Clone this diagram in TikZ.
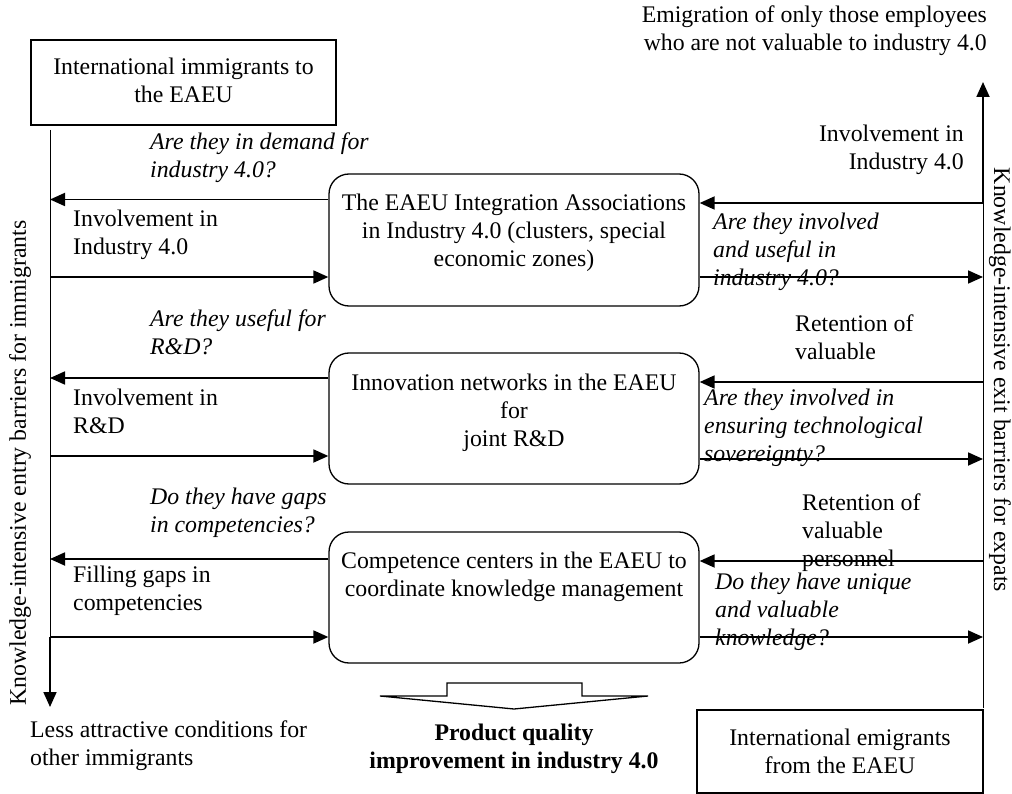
\documentclass[tikz,border=0pt]{standalone}
\usepackage{fontspec}
\setmainfont{Liberation Serif}
\usetikzlibrary{arrows.meta}
\begin{document}
\begin{tikzpicture}[x=1pt,y=-1pt,
  txt/.style={inner sep=0pt, font=\fontsize{23.8}{28}\selectfont},
  lt/.style={txt, anchor=west, align=left},
  rt/.style={txt, anchor=east, align=right},
  ct/.style={txt, align=center},
  itl/.style={lt, font=\fontsize{23.8}{28}\selectfont\itshape},
  sqbox/.style={draw, line width=1.3pt, inner sep=0pt},
  rbox/.style={draw, line width=1.3pt, rounded corners=20pt, minimum width=370pt, minimum height=131pt, inner sep=0pt},
  arr/.style={line width=1.8pt, -{Triangle[length=15pt,width=13pt]}},
  thinline/.style={line width=1pt},
]
\useasboundingbox (0,0) rectangle (1012,794);

% top-left and bottom-right boxes
\node[sqbox, minimum width=305pt, minimum height=85pt] (imm) at (183.5,82.5) {};
\node[ct] (immt) at (183.5,80) {International immigrants to\\the EAEU};
\node[sqbox, minimum width=286pt, minimum height=83pt] (emi) at (840,751.5) {};
\node[ct] (emit) at (840,751) {International emigrants\\from the EAEU};

% central rounded boxes
\node[rbox, minimum height=132pt] (b1) at (514,240) {};
\node[ct] (b1t) at (514,233) {The EAEU Integration Associations\\in Industry 4.0 (clusters, special\\economic zones)};
\node[rbox] (b2) at (514,418.5) {};
\node[ct] (b2t) at (514,413) {Innovation networks in the EAEU\\for\\joint R\&D};
\node[rbox] (b3) at (514,597.5) {};
\node[ct] (b3t) at (514,577) {Competence centers in the EAEU to\\coordinate knowledge management};

% vertical barriers
\coordinate (Ltop) at (50,130);
\coordinate (Lmid) at (50,637);
\coordinate (Lbot) at (50,707);
\draw[thinline] (Ltop) -- (Lmid);
\draw[arr] (Lmid) -- (Lbot);

\coordinate (Rbot) at (983,708);
\coordinate (Rmid) at (983,203);
\coordinate (Rtop) at (983,82);
\draw[thinline] (Rbot) -- (Rmid);
\draw[arr] (Rmid) -- (Rtop);

% left-side connectors
\coordinate (L1o) at (50,199.5);
\coordinate (L1i) at (50,277);
\coordinate (L2o) at (50,378);
\coordinate (L2i) at (50,456);
\coordinate (L3o) at (50,559);
\coordinate (L3i) at (50,637);
\draw[arr] (b1.west |- L1o) -- (L1o);
\draw[arr] (L1i) -- (b1.west |- L1i);
\draw[arr] (b2.west |- L2o) -- (L2o);
\draw[arr] (L2i) -- (b2.west |- L2i);
\draw[arr] (b3.west |- L3o) -- (L3o);
\draw[arr] (L3i) -- (b3.west |- L3i);

% right-side connectors
\coordinate (R1i) at (983,203);
\coordinate (R1o) at (983,277);
\coordinate (R2i) at (983,382);
\coordinate (R2o) at (983,459);
\coordinate (R3i) at (983,561);
\coordinate (R3o) at (983,637);
\draw[arr] (R1i) -- (b1.east |- R1i);
\draw[arr] (b1.east |- R1o) -- (R1o);
\draw[arr] (R2i) -- (b2.east |- R2i);
\draw[arr] (b2.east |- R2o) -- (R2o);
\draw[arr] (R3i) -- (b3.east |- R3i);
\draw[arr] (b3.east |- R3o) -- (R3o);

% rotated barrier labels
\node[txt, rotate=90] (entry) at (20,463) {Knowledge-intensive entry barriers for immigrants};
\node[txt, rotate=-90] (exit) at (1000,380) {Knowledge-intensive exit barriers for expats};

% left labels
\node[itl] (q1) at (150,157.5) {Are they in demand for\\industry 4.0?};
\node[lt] (a1) at (73,234.5) {Involvement in\\Industry 4.0};
\node[itl] (q2) at (150,332.5) {Are they useful for\\R\&D?};
\node[lt] (a2) at (73,411) {Involvement in\\R\&D};
\node[itl] (q3) at (150,513) {Do they have gaps\\in competencies?};
\node[lt] (a3) at (73,590.5) {Filling gaps in\\competencies};
\node[lt] (less) at (30,746) {Less attractive conditions for\\other immigrants};

% right labels
\node[rt] (emig) at (987,31) {Emigration of only those employees\\who are not valuable to industry 4.0};
\node[rt] (ra1) at (964,149.5) {Involvement in\\Industry 4.0};
\node[itl] (rq1) at (713,252) {Are they involved\\and useful in\\industry 4.0?};
\node[lt] (ra2) at (795,337.5) {Retention of\\valuable};
\node[itl] (rq2) at (704,428) {Are they involved in\\ensuring technological\\sovereignty?};
\node[lt] (ra3) at (802,533) {Retention of\\valuable\\personnel};
\node[itl] (rq3) at (715,612) {Do they have unique\\and valuable\\knowledge?};

% result arrow and label
\draw[line width=1.3pt, line join=miter] (447,683) -- (582,683) -- (582,696) -- (648,696) -- (514,709) -- (380,696) -- (447,696) -- cycle;
\node[ct, font=\fontsize{23.8}{28}\selectfont\bfseries] (res) at (514,749) {Product quality\\improvement in industry 4.0};
\end{tikzpicture}
\end{document}
